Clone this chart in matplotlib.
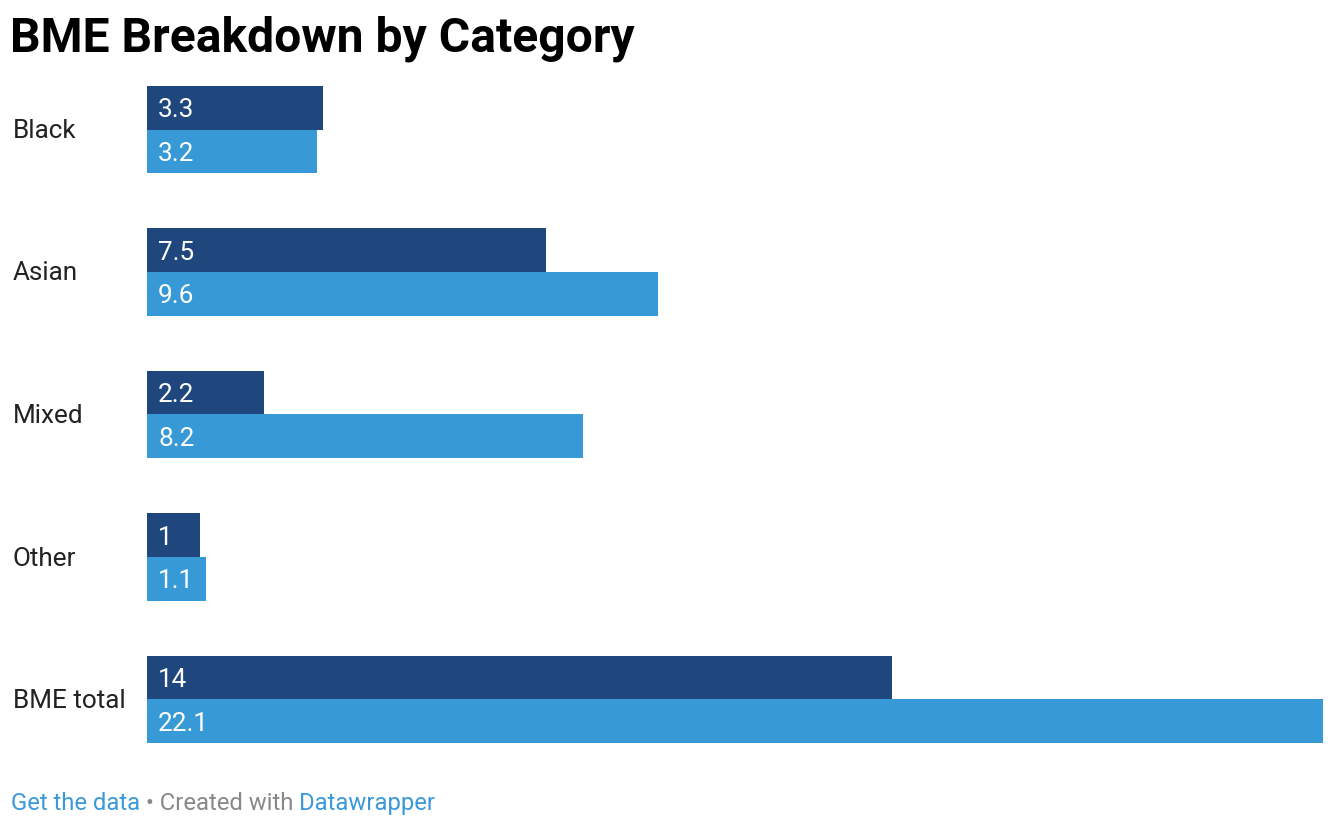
import matplotlib
matplotlib.use("Agg")
import matplotlib.pyplot as plt
import numpy as np

plt.rcParams['font.family'] = ['Roboto', 'DejaVu Sans']

# data
categories = ["Black", "Asian", "Mixed", "Other", "BME total"]
series_dark = [3.3, 7.5, 2.2, 1, 14]
series_light = [3.2, 9.6, 8.2, 1.1, 22.1]
labels_dark = ["3.3", "7.5", "2.2", "1", "14"]
labels_light = ["3.2", "9.6", "8.2", "1.1", "22.1"]

col_dark = "#1f477d"
col_light = "#3799d6"

W, H = 1329, 830
fig = plt.figure(figsize=(W/100, H/100), dpi=100, facecolor='w')
ax = fig.add_axes([147/W, 1-743/H, (1323-147)/W, (743-86)/H])

h = 43.6/142.5
y = np.arange(len(categories))
ax.barh(y - h/2, series_dark, height=h, color=col_dark)
ax.barh(y + h/2, series_light, height=h, color=col_light)

for i in range(len(categories)):
    ax.text(11/53.2, y[i] - h/2, labels_dark[i], color='w', fontsize=18.8, va='center_baseline', ha='left')
    ax.text(11/53.2, y[i] + h/2, labels_light[i], color='w', fontsize=18.8, va='center_baseline', ha='left')
    fig.text(13/W, 1-(128.5+142.5*i)/H, categories[i], color='#222222', fontsize=18.8, va='center_baseline', ha='left')

ax.set_xlim(0, 22.1)
ax.set_ylim(4 + h, -h)
ax.axis('off')

fig.text(10/W, 1-33/H, "BME Breakdown by Category", fontsize=34.6, fontweight='bold', va='center_baseline', ha='left', color='#000000')

# footer
fs = 17.2
t1 = fig.text(11/W, 1-801/H, "Get the data", fontsize=fs, color='#3a9ad9', va='center_baseline', ha='left')
t2 = fig.text(0, 0, " \u2022 Created with ", fontsize=fs, color='#888888', va='bottom', ha='left')
t3 = fig.text(0, 0, "Datawrapper", fontsize=fs, color='#3a9ad9', va='bottom', ha='left')
fig.canvas.draw()
r = fig.canvas.get_renderer()
bb = t1.get_window_extent(r)
t2.set_position((bb.x1/W, bb.y0/H))
fig.canvas.draw()
bb2 = t2.get_window_extent(r)
t3.set_position((bb2.x1/W, bb.y0/H))

plt.savefig("out.png", dpi=100, facecolor='w')
